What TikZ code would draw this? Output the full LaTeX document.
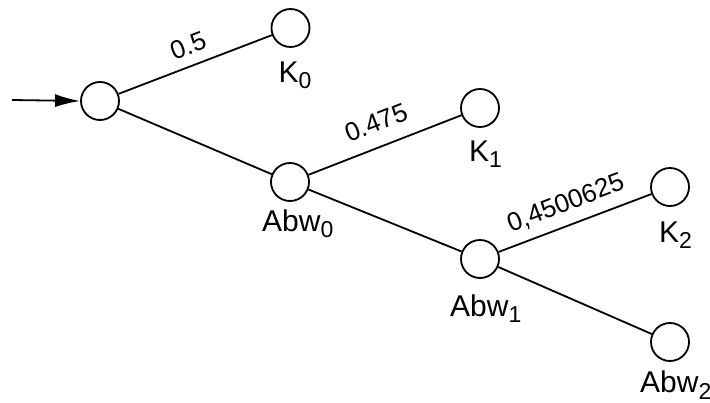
\documentclass[tikz,border=0pt]{standalone}
\usepackage{fontspec}
\setmainfont{Liberation Sans}
\usetikzlibrary{arrows.meta,calc}
% lowered, slightly smaller index after a state name
\newcommand{\idx}[1]{\raisebox{-6pt}{\fontsize{23}{23}\selectfont #1}}
\begin{document}
\begin{tikzpicture}[x=1pt,y=-1pt,
  state/.style={circle,draw,line width=1.8pt,minimum size=38pt,inner sep=0pt},
  edge/.style={line width=1.8pt},
  nlabel/.style={anchor=base west,inner sep=0pt,font=\fontsize{30}{30}\selectfont},
  plabel/.style={sloped,above,inner sep=0pt,text depth=0pt,font=\fontsize{26}{26}\selectfont}]
\useasboundingbox[fill=white] (0,0) rectangle (710,403);

% states
\node[state] (root) at (100,101) {};
\node[state] (k0) at (290.5,28) {};
\node[state] (a0) at (290,182) {};
\node[state] (k1) at (480,108) {};
\node[state] (a1) at (480,259) {};
\node[state] (k2) at (670,187) {};
\node[state] (a2) at (670,342) {};

% state names
\node[nlabel] (lk0) at ($(k0)+(-12,55)$) {K\idx{0}};
\node[nlabel] (lk1) at ($(k1)+(-11,54)$) {K\idx{1}};
\node[nlabel] (lk2) at ($(k2)+(-11,56)$) {K\idx{2}};
\node[nlabel] (la0) at ($(a0)+(-28,50)$) {Abw\idx{0}};
\node[nlabel] (la1) at ($(a1)+(-30,58)$) {Abw\idx{1}};
\node[nlabel] (la2) at ($(a2)+(-30,51)$) {Abw\idx{2}};

% entry arrow
\coordinate (in) at (12,100);
\draw[edge,-{Latex[length=25pt,width=13pt]}] (in) -- (root.west);

% transitions
\draw[edge] (root) -- node[plabel,pos=0.5,outer sep=11pt] (p0) {0.5} (k0);
\draw[edge] (root) -- (a0);
\draw[edge] (a0) -- node[plabel,pos=0.5,outer sep=15pt] (p1) {0.475} (k1);
\draw[edge] (a0) -- (a1);
\draw[edge] (a1) -- node[plabel,pos=0.49,outer sep=14pt] (p2) {0,4500625} (k2);
\draw[edge] (a1) -- (a2);
\end{tikzpicture}
\end{document}
